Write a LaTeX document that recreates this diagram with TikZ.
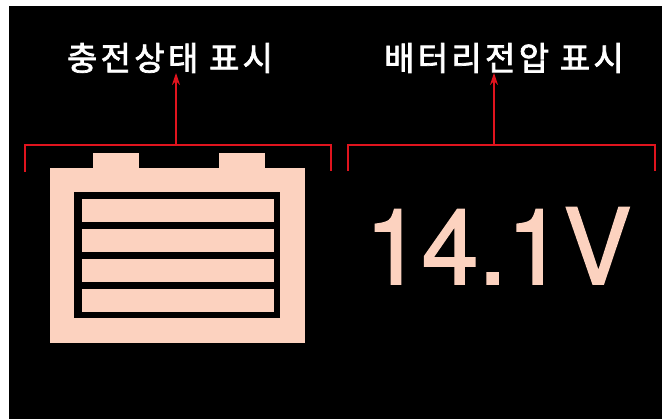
\documentclass[tikz,border=0pt]{standalone}
\usepackage{fontspec}
\newfontfamily\voltfont[FakeBold=1.6,FakeStretch=0.97]{TeX Gyre Heros}
\newfontfamily\krfont[FakeBold=2.2,LetterSpace=10]{Noto Sans CJK KR}
\usetikzlibrary{arrows.meta}
\definecolor{skin}{HTML}{FCD2BF}
\definecolor{markred}{HTML}{E0141E}

\begin{document}
\begin{tikzpicture}[x=1pt,y=-1pt]
   \tikzstyle{block}=[draw=none, inner sep=0pt, outer sep=0pt, anchor=north west]
   \tikzstyle{part}=[block, fill=skin]
   \tikzstyle{bar}=[part, minimum width=192pt, minimum height=23pt]
   \tikzstyle{post}=[part, minimum width=46pt, minimum height=15pt]
   \tikzstyle{caption}=[text=white, font=\krfont\fontsize{33}{33}\selectfont, inner sep=0pt, outer sep=0pt]
   \tikzstyle{bracket}=[draw=markred, line width=1.2pt]
   \tikzstyle{pointer}=[draw=markred, line width=2pt, -{Stealth[length=12pt,width=8pt]}]

\useasboundingbox (0,0) rectangle (662,419);
\node[block, fill=black, minimum width=653pt, minimum height=413pt] (screen) at (9,6) {};

% battery
\node[post] (postleft) at (92.5,153) {};
\node[post] (postright) at (218.5,153) {};
\node[part, minimum width=255pt, minimum height=175pt] (body) at (50,168) {};
\node[block, fill=black, minimum width=206pt, minimum height=126pt] (window) at (74,192) {};
\node[bar] (bara) at (82,199) {};
\node[bar] (barb) at (82,229) {};
\node[bar] (barc) at (82,259) {};
\node[bar] (bard) at (82,289) {};

% voltage
\node[text=skin, font=\voltfont\fontsize{105}{105}\selectfont, inner sep=0pt, anchor=base west] (volt) at (365,284) {14.1V};

% captions
\node[caption] (state) at (170,58) {충전상태 표시};
\node[caption] (voltage) at (504,58) {배터리전압 표시};

% brackets
\coordinate (sa) at (25,172);
\coordinate (sb) at (25,145);
\coordinate (sc) at (331,145);
\coordinate (sd) at (331,171);
\coordinate (sm) at (176,145);
\coordinate (va) at (348,171);
\coordinate (vb) at (348,145);
\coordinate (vc) at (655,145);
\coordinate (vd) at (655,171);
\coordinate (vm) at (494,145);
\draw[bracket] (sa) -- (sb) -- (sc) -- (sd);
\draw[bracket] (va) -- (vb) -- (vc) -- (vd);
\draw[pointer] (sm) -- (sm |- state.south);
\draw[pointer] (vm) -- (vm |- voltage.south);

\end{tikzpicture}
\end{document}
